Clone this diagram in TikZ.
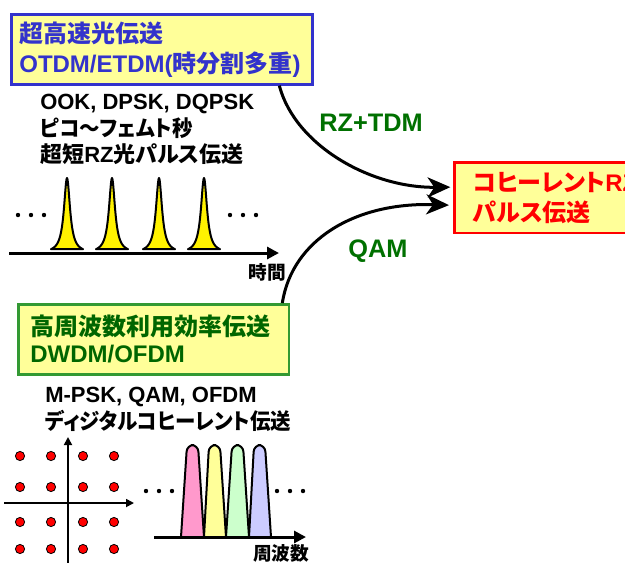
\documentclass[tikz,border=0pt]{standalone}
\usepackage{fontspec}
\setmainfont{Liberation Sans}
\newfontfamily\jp{Noto Sans CJK JP}[RawFeature=+palt]
\newfontfamily\jpn{Noto Sans CJK JP}[RawFeature=+palt, FakeStretch=0.93]
\usetikzlibrary{arrows.meta}
\definecolor{boxyellow}{HTML}{FFFF99}
\definecolor{tdmblue}{HTML}{3333CC}
\definecolor{wdmgreen}{HTML}{006600}
\definecolor{wdmframe}{HTML}{339933}
\definecolor{labelgreen}{HTML}{007000}
\definecolor{cohred}{HTML}{FF0000}
\definecolor{bandpink}{HTML}{FF99CC}
\definecolor{bandyellow}{HTML}{FFFF99}
\definecolor{bandgreen}{HTML}{CCFFCC}
\definecolor{bandblue}{HTML}{CCCCFF}
\begin{document}
\begin{tikzpicture}[x=0.75pt, y=-0.75pt, font=\bfseries,
    hdbox/.style={draw, line width=2pt, fill=boxyellow, anchor=north west, align=left, inner ysep=0pt},
    lbl/.style={text=labelgreen, font=\bfseries\fontsize{19}{22}\selectfont},
    txt/.style={anchor=north west, align=left, inner sep=0pt, font=\bfseries\fontsize{16.5}{20}\selectfont},
    flow/.style={-{Stealth[length=17pt, width=15pt, inset=5pt]}, line width=2.25pt},
    axis/.style={-{Triangle[length=9pt, width=9pt]}, line width=2.25pt},
    pulse/.style={fill=yellow, draw=black, line width=1.5pt, line join=round},
    band/.style={draw=black, line width=1.5pt, line join=round}]
    \useasboundingbox (0,0) rectangle (625,562);
    \clip (0,0) rectangle (625,562);

    % Draw the three boxes
    \node[hdbox, draw=tdmblue, text=tdmblue, text width=214pt, inner xsep=6pt,
          minimum height=52.5pt, font=\bfseries\fontsize{18}{22.5}\selectfont] (tdm) at (10,13)
        {{\jp 超高速光伝送}\\OTDM/ETDM({\jp 時分割多重})};
    \node[hdbox, draw=wdmframe, text=wdmgreen, text width=185pt, inner xsep=9pt,
          minimum height=52.5pt, font=\bfseries\fontsize{18}{20.25}\selectfont] (wdm) at (17,303)
        {{\jp 高周波数利用効率伝送}\\DWDM/OFDM};
    \node[hdbox, draw=cohred, text=cohred, text width=130pt, inner xsep=14pt,
          minimum height=53pt, font=\bfseries\fontsize{18}{22.5}\selectfont] (coh) at (453,161)
        {{\jp コヒーレント}RZ\\{\jp パルス伝送}};

    % Draw the curved arrows
    \draw[flow] ([xshift=-26pt]tdm.south east) .. controls (295,145) and (370,188) .. ([xshift=-2pt, yshift=7.9pt]coh.west);
    \draw[flow] ([xshift=-6pt]wdm.north east) .. controls (292,240) and (355,202) .. ([xshift=-3pt, yshift=-5.6pt]coh.west);
    \node[lbl] (rztdm) at (371,123) {RZ+TDM};
    \node[lbl] (qam) at (378,251) {QAM};

    % Draw the time domain pulses
    \node[txt] (tdtext) at (40,94)
        {OOK, DPSK, DQPSK\\{\jpn ピコ～フェムト秒}\\{\jp 超短}RZ{\jp 光パルス伝送}};
    \foreach \c in {67,112,159,204}
        \draw[pulse] plot[domain=-16:16, samples=49, smooth] ({\c+\x}, {253-75/(1+(\x/3.7)^2)}) -- cycle;
    \draw[axis] (9,253) -- (279,253);
    \foreach \x in {18,31,44,230,243,256}
        \fill (\x,215) circle (2.2);
    \node[font=\bfseries\fontsize{14}{16}\selectfont\jp] (time) at (267,272) {時間};

    % Draw the constellation
    \node[txt] (fdtext) at (45,387)
        {M-PSK, QAM, OFDM\\{\jpn ディジタルコヒーレント伝送}};
    \draw[-{Triangle[length=6pt, width=6pt]}, line width=1.3pt] (68,565) -- (68,437);
    \draw[-{Triangle[length=6pt, width=6pt]}, line width=1.3pt] (4,503) -- (134,503);
    \foreach \x in {20,51,83,114}
        \foreach \y in {456,487,522,549}
            \filldraw[fill=red, draw=black, line width=0.6pt] (\x,\y) circle (4.6);

    % Draw the spectrum
    \draw[band, fill=bandpink] (181,537) [rounded corners=5pt] -- (187,445) -- (198,445) [sharp corners] -- (204,537);
    \draw[band, fill=bandyellow] (204,537) [rounded corners=5pt] -- (209,445) -- (220,445) [sharp corners] -- (226,537);
    \draw[band, fill=bandgreen] (226,537) [rounded corners=5pt] -- (232,445) -- (243,445) [sharp corners] -- (249,537);
    \draw[band, fill=bandblue] (249,537) [rounded corners=5pt] -- (254,445) -- (265,445) [sharp corners] -- (271,537);
    \draw[axis] (154,537) -- (306,537);
    \foreach \x in {146,159,172,277,290,303}
        \fill (\x,491) circle (2.2);
    \node[font=\bfseries\fontsize{14}{16}\selectfont\jp] (freq) at (281,553) {周波数};
\end{tikzpicture}
\end{document}
